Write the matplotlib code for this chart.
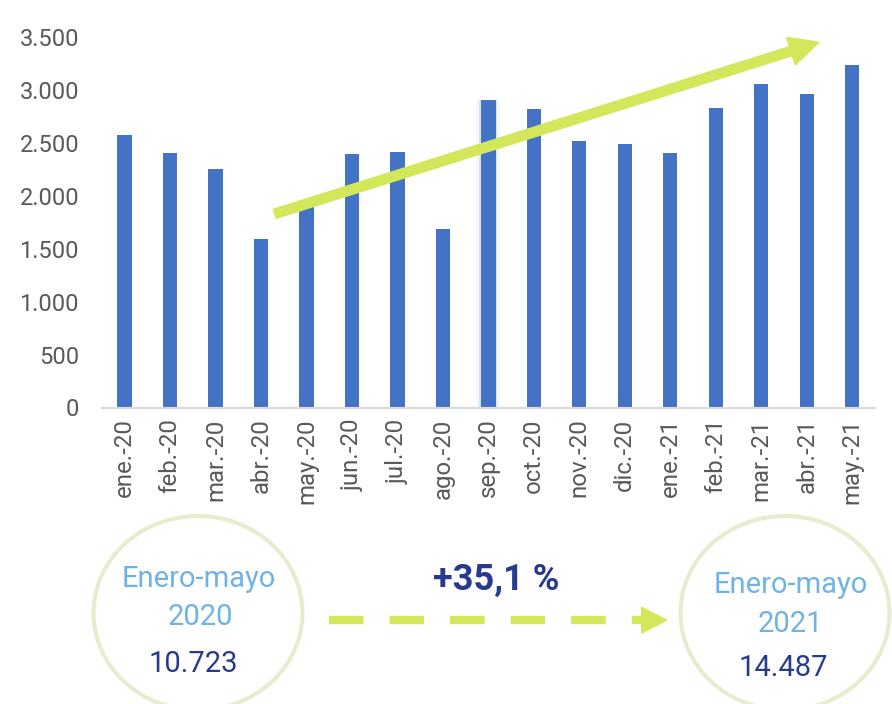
import matplotlib
matplotlib.use("Agg")
import matplotlib.pyplot as plt
from matplotlib.transforms import Affine2D
from matplotlib.patches import Ellipse, FancyArrow, Polygon
from matplotlib.lines import Line2D

# ---- data ----
months = ["ene.-20", "feb.-20", "mar.-20", "abr.-20", "may.-20", "jun.-20", "jul.-20",
          "ago.-20", "sep.-20", "oct.-20", "nov.-20", "dic.-20", "ene.-21", "feb.-21",
          "mar.-21", "abr.-21", "may.-21"]
values = [2573, 2403, 2255, 1590, 1902, 2400, 2413, 1685, 2907, 2822, 2523, 2491,
          2403, 2829, 3056, 2964, 3235]
yticks = [0, 500, 1000, 1500, 2000, 2500, 3000, 3500]
ytick_labels = ["0", "500", "1.000", "1.500", "2.000", "2.500", "3.000", "3.500"]
highlight = "sep.-20"
period_label = "Enero-mayo"
year_left, year_right = "2020", "2021"
total_left, total_right = "10.723", "14.487"
change_label = "+35,1 %"

BAR = "#4472c4"
GREY = "#595959"
LIME = "#d4e75a"
RING = "#e6ecce"
LBLUE = "#6fb3e6"
NAVY = "#283a8e"

plt.rcParams["font.family"] = ["Roboto", "DejaVu Sans"]
plt.rcParams["lines.scale_dashes"] = False

W, H = 892, 704
fig = plt.figure(figsize=(W / 100, H / 100), dpi=100)
ax = fig.add_axes([101.7 / W, 1 - 407.5 / H, (875 - 101.7) / W, (407.5 - 37.3) / H])

x = list(range(len(months)))
hi = months.index(highlight)
# soft glow behind the highlighted bar
for w, a in [(0.48, 0.12), (0.40, 0.22)]:
    ax.bar([hi], [values[hi]], width=w, color="#7fb6e8", alpha=a, zorder=1,
           clip_on=False)
ax.bar(x, values, width=0.315, color=BAR, zorder=2)

ax.set_xlim(-0.5, 16.5)
ax.set_ylim(0, 3500)
ax.set_yticks(yticks)
ax.set_yticklabels(ytick_labels)
ax.set_xticks(x)
ax.set_xticklabels(months, rotation=90)
ax.tick_params(axis="y", length=0, pad=16.3, labelsize=17, labelcolor=GREY)
ax.tick_params(axis="x", length=0, pad=8, labelsize=17.3, labelcolor=GREY)
for s in ["top", "right", "left"]:
    ax.spines[s].set_visible(False)
ax.spines["bottom"].set_color("#d9d9d9")
ax.spines["bottom"].set_linewidth(1.6)
ax.spines["bottom"].set_zorder(3)

# pixel-coordinate transform (origin top-left)
px = Affine2D().scale(1 / W, -1 / H).translate(0, 1) + fig.transFigure

# big trend arrow
arr = FancyArrow(274.7, 213.8, 544.3, -171.5, width=9.5, head_width=29, head_length=29.5,
                 length_includes_head=True, color=LIME, transform=px, zorder=5)
fig.add_artist(arr)

# circles
for cx in (198, 785):
    fig.add_artist(Ellipse((cx, 613), 209, 194, fill=False, edgecolor=RING,
                           linewidth=2.9, transform=px, zorder=4))

# texts in circles
fig.text(198.3, 587.3, period_label, transform=px, ha="center", va="baseline",
         fontsize=21, color=LBLUE)
fig.text(200, 625, year_left, transform=px, ha="center", va="baseline",
         fontsize=21, color=LBLUE)
fig.text(193, 672.3, total_left, transform=px, ha="center", va="baseline",
         fontsize=21, color=NAVY)
fig.text(790.8, 593.3, period_label, transform=px, ha="center", va="baseline",
         fontsize=21, color=LBLUE)
fig.text(790.8, 631.7, year_right, transform=px, ha="center", va="baseline",
         fontsize=21, color=LBLUE)
fig.text(783.3, 676, total_right, transform=px, ha="center", va="baseline",
         fontsize=21, color=NAVY)

fig.text(496, 590, change_label, transform=px, ha="center", va="baseline",
         fontsize=26, fontweight="bold", color=NAVY)

# dashed arrow
fig.add_artist(Line2D([329.3, 641.7], [620.2, 620.2], transform=px, color=LIME,
                      linewidth=6.0, linestyle=(0, (24.8, 18.8)),
                      solid_capstyle="butt", dash_capstyle="butt", zorder=5))
fig.add_artist(Polygon([[641.7, 607.3], [641.7, 633.1], [666.7, 620.2]], closed=True,
                       color=LIME, transform=px, zorder=5))

fig.savefig("out.png", dpi=100, facecolor="white")
